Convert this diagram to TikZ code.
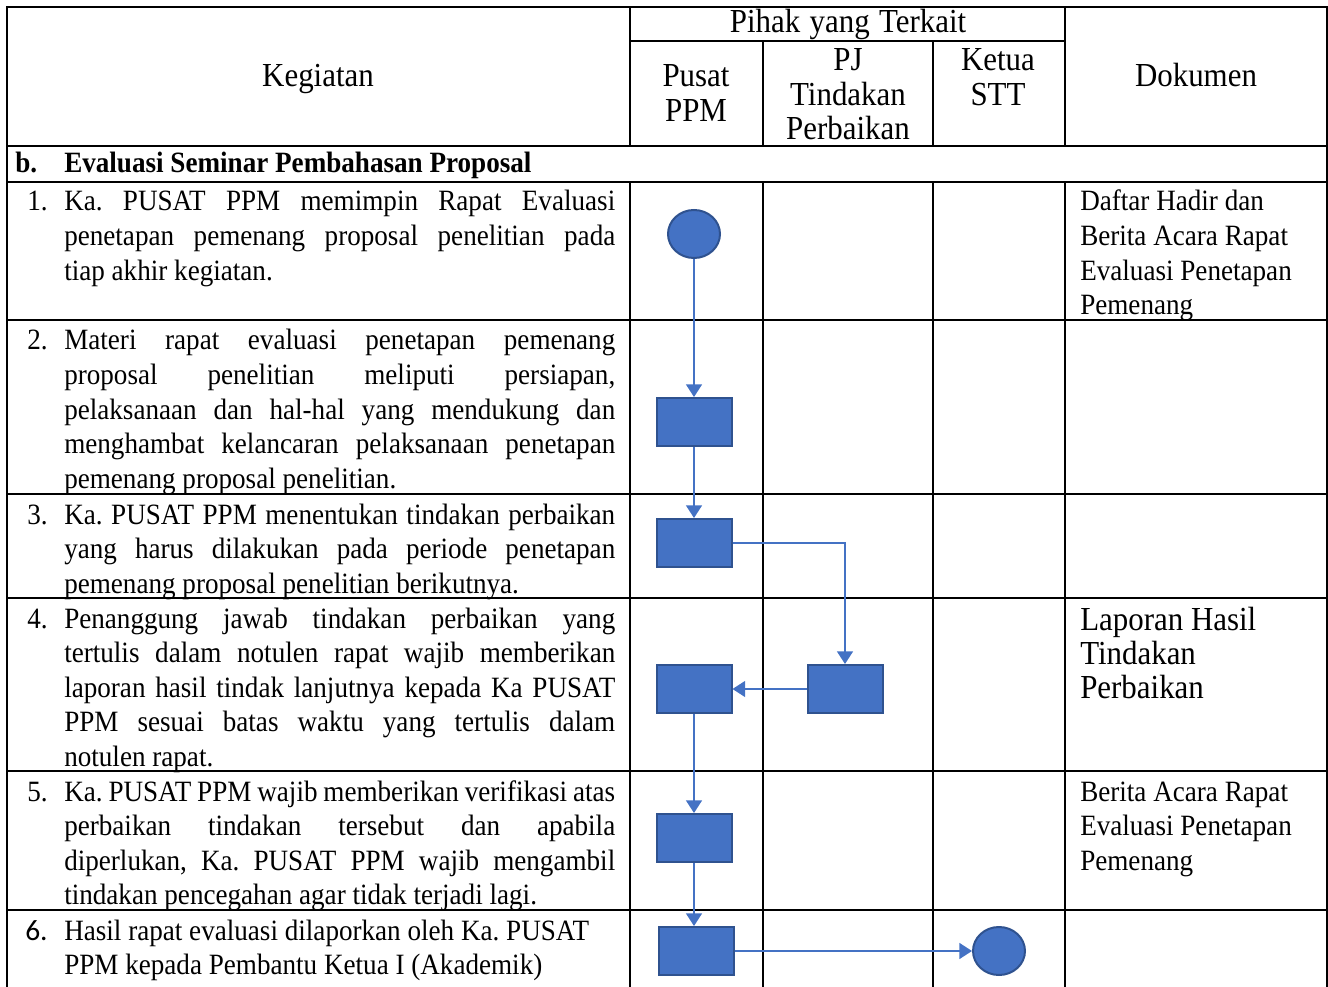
\documentclass[tikz,border=0pt]{standalone}
\usepackage{fontspec}
\setmainfont[FakeStretch=0.92]{Liberation Serif}
\newfontfamily\numfont{Carlito}
\usepackage{xcolor}
\usepackage{tikz}
\usetikzlibrary{arrows.meta, positioning, shapes.geometric}
\definecolor{boxblue}{HTML}{4472C4}
\definecolor{boxedge}{HTML}{2F528F}
\def\bodysize{\fontsize{22.1pt}{25.9pt}\selectfont}
\def\headsize{\fontsize{25.2pt}{25.6pt}\selectfont}
\frenchspacing

\tikzset{
  grid/.style={line width=1.5pt, black},
  proc/.style={draw=boxedge, fill=boxblue, line width=1.5pt, inner sep=0pt,
    minimum width=56.25pt, minimum height=36pt},
  term/.style={ellipse, draw=boxedge, fill=boxblue, line width=1.5pt, inner sep=0pt,
    minimum width=39pt, minimum height=36pt},
  flow/.style={draw=boxblue, line width=1.1pt, -{Triangle[length=9.5pt,width=12pt]}},
  ket/.style={inner sep=0pt, text width=413.25pt, align=justify, anchor=base west, font=\bodysize},
  num/.style={inner sep=0pt, anchor=base west, font=\bodysize},
  dok/.style={inner sep=0pt, text width=180pt, align=left, anchor=base west, font=\bodysize,
    execute at begin node={\spaceskip=0pt\xspaceskip=0pt}},
  head/.style={inner sep=0pt, text width=220pt, align=center, anchor=base, font=\headsize,
    execute at begin node={\spaceskip=0pt\xspaceskip=0pt}}
}

\begin{document}
\begin{tikzpicture}[x=0.75pt, y=-0.75pt]
  \useasboundingbox (0,0) rectangle (1328,987);
  % table
  \draw[grid] (7,987) -- (7,7) -- (1327,7) -- (1327,987);
  \draw[grid] (630,41) -- (1065,41);
  \foreach \y in {146, 182, 320, 494, 598, 771, 910}
    \draw[grid] (7,\y) -- (1327,\y);
  \foreach \x in {630, 1065}
    \draw[grid] (\x,7) -- (\x,146) (\x,182) -- (\x,987);
  \foreach \x in {763, 933}
    \draw[grid] (\x,41) -- (\x,146) (\x,182) -- (\x,987);

  % header
  \node[head] (hKeg) at (318,87) {Kegiatan};
  \node[head] (hPihak) at (848,33) {Pihak yang Terkait};
  \node[head] (hPusat) at (696,87) {Pusat\\PPM};
  \node[head] (hPJ) at (848,71) {PJ\\Tindakan\\Perbaikan};
  \node[head] (hKetua) at (998,71) {Ketua\\STT};
  \node[head] (hDok) at (1196,87) {Dokumen};
  \node[num, font=\bodysize\bfseries] (secNo) at (15,173) {b.};
  \node[num, font=\bodysize\bfseries] (secB) at (64,173) {Evaluasi Seminar Pembahasan Proposal};

  % kegiatan
  \node[num] (n1) at (27,211) {1.};
  \node[ket] (k1) at (64,211) {Ka. PUSAT PPM memimpin Rapat Evaluasi\linebreak
    penetapan pemenang proposal penelitian pada\linebreak tiap akhir kegiatan.};
  \node[num] (n2) at (27,350) {2.};
  \node[ket] (k2) at (64,350) {Materi rapat evaluasi penetapan pemenang\linebreak
    proposal penelitian meliputi persiapan,\linebreak
    pelaksanaan dan hal-hal yang mendukung dan\linebreak
    menghambat kelancaran pelaksanaan penetapan\linebreak
    pemenang proposal penelitian.};
  \node[num] (n3) at (27,524) {3.};
  \node[ket] (k3) at (64,524) {Ka. PUSAT PPM menentukan tindakan perbaikan\linebreak
    yang harus dilakukan pada periode penetapan\linebreak
    pemenang proposal penelitian berikutnya.};
  \node[num] (n4) at (27,628) {4.};
  \node[ket] (k4) at (64,628) {Penanggung jawab tindakan perbaikan yang\linebreak
    tertulis dalam notulen rapat wajib memberikan\linebreak
    laporan hasil tindak lanjutnya kepada Ka PUSAT\linebreak
    PPM sesuai batas waktu yang tertulis dalam\linebreak notulen rapat.};
  \node[num] (n5) at (27,801) {5.};
  \node[ket] (k5) at (64,801) {Ka. PUSAT PPM wajib memberikan verifikasi atas\linebreak
    perbaikan tindakan tersebut dan apabila\linebreak
    diperlukan, Ka. PUSAT PPM wajib mengambil\linebreak
    tindakan pencegahan agar tidak terjadi lagi.};
  \node[num, font=\bodysize\numfont] (n6) at (25,940) {6.};
  \node[ket] (k6) at (64,940) {Hasil rapat evaluasi dilaporkan oleh Ka. PUSAT\\
    PPM kepada Pembantu Ketua I (Akademik)};

  % dokumen
  \node[dok] (d1) at (1080,211) {Daftar Hadir dan\\Berita Acara Rapat\\Evaluasi Penetapan\\Pemenang};
  \node[dok, font=\headsize, text width=200pt] (d4) at (1080,630) {Laporan Hasil\\Tindakan\\Perbaikan};
  \node[dok] (d5) at (1080,801) {Berita Acara Rapat\\Evaluasi Penetapan\\Pemenang};

  % alur
  \node[term] (s1) at (694,234) {};
  \node[proc] (p2) at (694,422) {};
  \node[proc] (p3) at (694,543) {};
  \node[proc] (p4) at (694,689) {};
  \node[proc] (q4) at (845,689) {};
  \node[proc] (p5) at (694,838) {};
  \node[proc] (p6) at (696,951) {};
  \node[term] (e6) at (999,951) {};

  \draw[flow] (s1) -- (p2);
  \draw[flow] (p2) -- (p3);
  \draw[flow] (p3) -| (q4);
  \draw[flow] (q4) -- (p4);
  \draw[flow] (p4) -- (p5);
  \draw[flow] (p5) -- (p5 |- p6.north);
  \draw[flow] (p6) -- (e6);
\end{tikzpicture}
\end{document}
